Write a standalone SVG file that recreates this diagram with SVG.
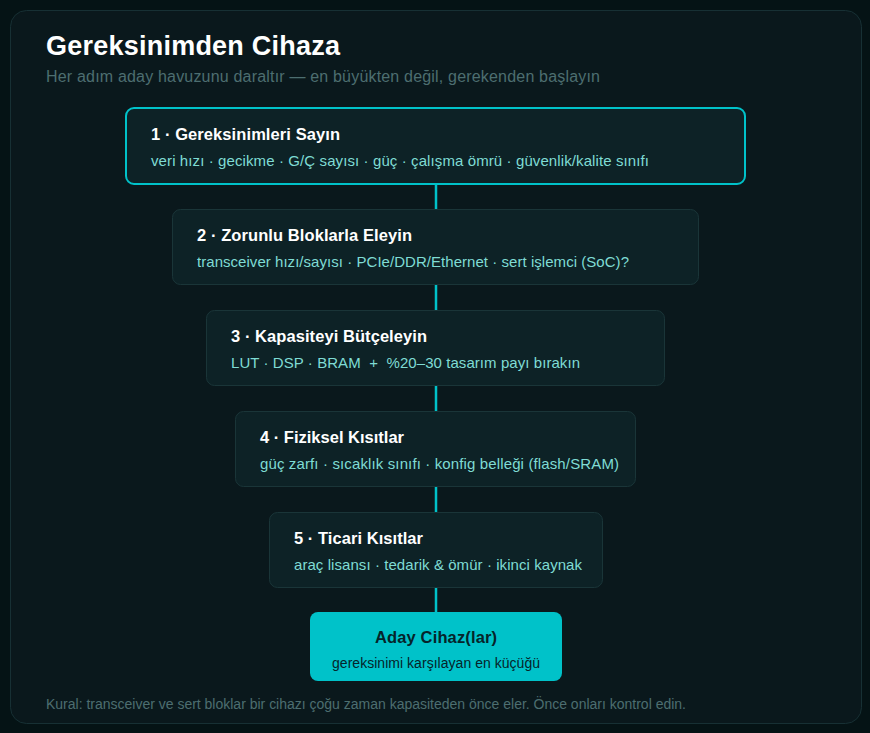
<svg xmlns="http://www.w3.org/2000/svg" width="870" height="733" viewBox="0 0 870 733">
<style>
.bg{fill:#051315}
.panel{fill:#0a181c;stroke:#173034;stroke-width:1}
.title{font-family:"Liberation Sans",Arial,sans-serif;font-weight:bold;font-size:27px;fill:#ffffff}
.subtitle{font-family:"Liberation Sans",Arial,sans-serif;font-size:16px;fill:#4d6e70}
.box{fill:#0d2226;stroke:#1a3538;stroke-width:1}
.box.hl{stroke:#00c2c9;stroke-width:2}
.bt{font-family:"Liberation Sans",Arial,sans-serif;font-weight:bold;font-size:16.5px;fill:#ffffff}
.bs{font-family:"Liberation Sans",Arial,sans-serif;font-size:15px;fill:#7fdcd4}
.final{fill:#00c2c9}
.ft{font-family:"Liberation Sans",Arial,sans-serif;font-weight:bold;font-size:16.5px;fill:#06242a}
.fs{font-family:"Liberation Sans",Arial,sans-serif;font-size:14px;fill:#06242a}
.conn{stroke:#00c2c9;stroke-width:2.5;fill:none}
.foot{font-family:"Liberation Sans",Arial,sans-serif;font-size:14px;fill:#4d6e70}
</style>
<rect class="bg" x="0" y="0" width="870" height="733"/>
<rect class="panel" x="10.5" y="10.5" width="851" height="713" rx="16"/>
<text class="title" x="46" y="55" textLength="294" lengthAdjust="spacing">Gereksinimden Cihaza</text>
<text class="subtitle" x="46" y="82" textLength="554" lengthAdjust="spacing">Her adım aday havuzunu daraltır — en büyükten değil, gerekenden başlayın</text>
<g id="connectors">
<line class="conn" x1="436" y1="184" x2="436" y2="209"/>
<line class="conn" x1="436" y1="284" x2="436" y2="310"/>
<line class="conn" x1="436" y1="385" x2="436" y2="411"/>
<line class="conn" x1="436" y1="486" x2="436" y2="512"/>
<line class="conn" x1="436" y1="587" x2="436" y2="612"/>
</g>
<g id="step1">
<rect class="box hl" x="126" y="108" width="619" height="76" rx="8"/>
<text class="bt" x="151" y="140" textLength="189" lengthAdjust="spacing">1 · Gereksinimleri Sayın</text>
<text class="bs" x="151" y="166" textLength="498" lengthAdjust="spacing">veri hızı · gecikme · G/Ç sayısı · güç · çalışma ömrü · güvenlik/kalite sınıfı</text>
</g>
<g id="step2">
<rect class="box" x="172.5" y="209.5" width="526" height="75" rx="8"/>
<text class="bt" x="197" y="241" textLength="215" lengthAdjust="spacing">2 · Zorunlu Bloklarla Eleyin</text>
<text class="bs" x="197" y="267" textLength="432" lengthAdjust="spacing">transceiver hızı/sayısı · PCIe/DDR/Ethernet · sert işlemci (SoC)?</text>
</g>
<g id="step3">
<rect class="box" x="206.5" y="310.5" width="458" height="75" rx="8"/>
<text class="bt" x="231" y="342" textLength="196" lengthAdjust="spacing">3 · Kapasiteyi Bütçeleyin</text>
<text class="bs" x="231" y="368" textLength="349" lengthAdjust="spacing" xml:space="preserve">LUT · DSP · BRAM  +  %20–30 tasarım payı bırakın</text>
</g>
<g id="step4">
<rect class="box" x="235.5" y="411.5" width="400" height="75" rx="8"/>
<text class="bt" x="260" y="443" textLength="144" lengthAdjust="spacing">4 · Fiziksel Kısıtlar</text>
<text class="bs" x="260" y="469" textLength="359" lengthAdjust="spacing">güç zarfı · sıcaklık sınıfı · konfig belleği (flash/SRAM)</text>
</g>
<g id="step5">
<rect class="box" x="269.5" y="512.5" width="333" height="75" rx="8"/>
<text class="bt" x="294" y="544" textLength="129" lengthAdjust="spacing">5 · Ticari Kısıtlar</text>
<text class="bs" x="294" y="570" textLength="288" lengthAdjust="spacing">araç lisansı · tedarik &amp; ömür · ikinci kaynak</text>
</g>
<g id="result">
<rect class="final" x="310" y="612" width="252" height="69" rx="8"/>
<text class="ft" x="436" y="643" text-anchor="middle" textLength="122" lengthAdjust="spacing">Aday Cihaz(lar)</text>
<text class="fs" x="436" y="668" text-anchor="middle" textLength="208" lengthAdjust="spacing">gereksinimi karşılayan en küçüğü</text>
</g>
<text class="foot" x="46" y="709" textLength="640" lengthAdjust="spacing">Kural: transceiver ve sert bloklar bir cihazı çoğu zaman kapasiteden önce eler. Önce onları kontrol edin.</text>
</svg>
